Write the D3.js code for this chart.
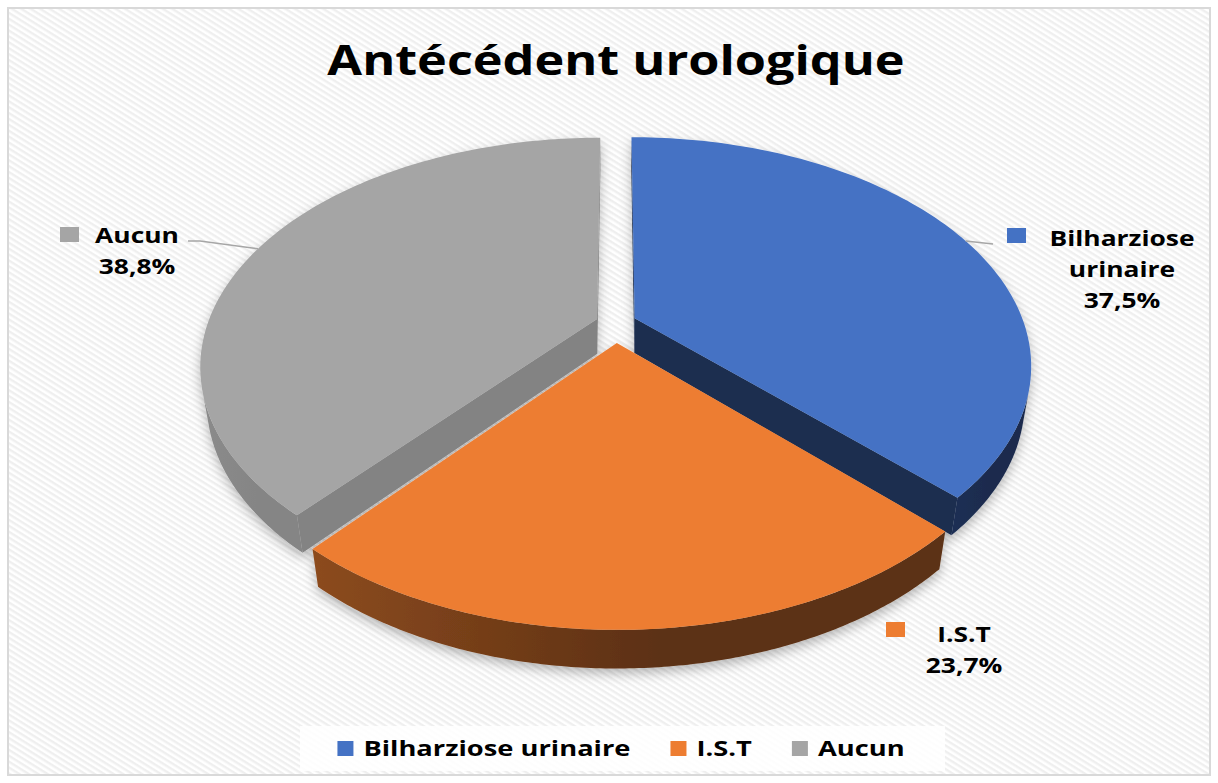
<!DOCTYPE html>
<html>
<head>
<meta charset="utf-8">
<script src="https://cdn.jsdelivr.net/npm/d3@7"></script>
<style>
  body { margin: 0; background: #fff; }
  text { font-family: "Open Sans", "DejaVu Sans", sans-serif; font-weight: 700; fill: #000; }
</style>
</head>
<body>
<svg id="chart"></svg>
<script>
// data
const categories = ["Bilharziose urinaire", "I.S.T", "Aucun"];
const values = [37.5, 23.7, 38.8];
const valueLabels = ["37,5%", "23,7%", "38,8%"];
const labelLines = [["Bilharziose", "urinaire"], ["I.S.T"], ["Aucun"]];

// styles
const topColors = ["#4472C4", "#ED7D31", "#A5A5A5"];
const wallLight = ["#1c2f54", "#8c4b1e", "#8b8b8b"];
const wallDark = ["#1a2b4d", "#5c3013", "#858585"];
const radialColors = ["#1b2d50", "#6a3817", "#838383"];

const W = 1218, H = 783;
const sx = 1.2; // horizontal stretch of the text

const svg = d3.select("#chart").attr("width", W).attr("height", H);
const defs = svg.append("defs");

const pat = defs.append("pattern")
  .attr("id", "stripes")
  .attr("width", 5).attr("height", 5)
  .attr("patternUnits", "userSpaceOnUse")
  .attr("patternTransform", "rotate(32)");
pat.append("rect").attr("width", 5).attr("height", 5).attr("fill", "#ffffff");
pat.append("rect").attr("width", 5).attr("height", 2.4).attr("fill", "#efefef");

const shadow = defs.append("filter").attr("id", "shadow")
  .attr("x", "-10%").attr("y", "-10%").attr("width", "120%").attr("height", "130%");
shadow.append("feDropShadow")
  .attr("dx", 0).attr("dy", 5).attr("stdDeviation", 6)
  .attr("flood-color", "#000").attr("flood-opacity", 0.28);

// background + frame
svg.append("rect").attr("x", 0).attr("y", 0).attr("width", W).attr("height", H).attr("fill", "#fff");
svg.append("rect")
  .attr("x", 8).attr("y", 8).attr("width", W - 16).attr("height", H - 16)
  .attr("fill", "url(#stripes)")
  .attr("stroke", "#d9d9d9").attr("stroke-width", 2);

// title
svg.append("text")
  .attr("transform", `translate(616,75) scale(${sx},1)`)
  .attr("text-anchor", "middle")
  .style("font-size", "42px")
  .text("Antécédent urologique");

// 3D projection of the pie (unit radius)
const k = 390, sA = 0.565, cA = Math.sqrt(1 - sA * sA), D = 4.06;
const cx = 616, cy = 325, depth = 0.11;
function proj(x, y, z) {
  const up = y * cA - z * sA, dist = z * cA + y * sA, s = D / (D - dist);
  return [cx + k * x * s, cy - k * up * s, dist];
}

const pie = d3.pie().sort(null).value(d => d).startAngle(0).endAngle(2 * Math.PI);
const arcs = pie(values);

function slicePoint(a, i, r, y) {
  const mid = (a.startAngle + a.endAngle) / 2;
  const ox = 0.052 * Math.sin(mid), oz = -0.08 * Math.cos(mid);
  return proj(ox + r * Math.sin(i), y, oz - r * Math.cos(i));
}

function area(pts) {
  let s = 0;
  for (let i = 0; i < pts.length; i++) {
    const p = pts[i], q = pts[(i + 1) % pts.length];
    s += p[0] * q[1] - q[0] * p[1];
  }
  return s / 2;
}

const line = d3.line();
const sides = [];
const tops = [];
arcs.forEach((a, si) => {
  const n = Math.max(8, Math.ceil((a.endAngle - a.startAngle) / 0.02));
  const angs = d3.range(n + 1).map(j => a.startAngle + (a.endAngle - a.startAngle) * j / n);
  const topPts = [slicePoint(a, 0, 0, 0)].concat(angs.map(t => slicePoint(a, t, 1, 0)));
  tops.push({ pts: topPts, color: topColors[si] });
  const sign = Math.sign(area(topPts));

  // outer wall: keep the segments that face the viewer, as one polygon
  const vis = [];
  for (let j = 0; j < n; j++) {
    const t1 = angs[j], t2 = angs[j + 1];
    const q = [slicePoint(a, t2, 1, 0), slicePoint(a, t1, 1, 0),
               slicePoint(a, t1, 1, -depth), slicePoint(a, t2, 1, -depth)];
    if (Math.sign(area(q)) === sign) vis.push(t1, t2);
  }
  if (vis.length) {
    const [lo, hi] = d3.extent(vis);
    const m = Math.max(4, Math.ceil((hi - lo) / 0.01));
    const ts = d3.range(m + 1).map(j => lo + (hi - lo) * j / m);
    const pts = ts.map(t => slicePoint(a, t, 1, 0))
      .concat(ts.slice().reverse().map(t => slicePoint(a, t, 1, -depth)));
    const [x0, x1] = d3.extent(pts, p => p[0]);
    const gid = "wall" + si;
    const g = defs.append("linearGradient").attr("id", gid)
      .attr("gradientUnits", "userSpaceOnUse")
      .attr("x1", x0).attr("x2", x1).attr("y1", 0).attr("y2", 0);
    g.append("stop").attr("offset", "0%").attr("stop-color", wallLight[si]);
    g.append("stop").attr("offset", "55%").attr("stop-color", wallDark[si]);
    g.append("stop").attr("offset", "100%").attr("stop-color", wallDark[si]);
    sides.push({ pts, color: `url(#${gid})`, z: d3.mean(pts, p => p[2]) });
  }
  // radial faces
  const e = a.endAngle, s0 = a.startAngle;
  [[slicePoint(a, e, 0, 0), slicePoint(a, e, 1, 0), slicePoint(a, e, 1, -depth), slicePoint(a, e, 0, -depth)],
   [slicePoint(a, s0, 1, 0), slicePoint(a, s0, 0, 0), slicePoint(a, s0, 0, -depth), slicePoint(a, s0, 1, -depth)]]
    .forEach(pts => {
      if (Math.sign(area(pts)) === sign)
        sides.push({ pts, color: radialColors[si], z: d3.mean(pts, p => p[2]) });
    });
});

sides.sort((a, b) => a.z - b.z);

const pieG = svg.append("g").attr("filter", "url(#shadow)");
pieG.selectAll("path.side")
  .data(sides)
  .join("path")
  .attr("class", "side")
  .attr("d", d => line(d.pts.map(p => [p[0], p[1]])) + "Z")
  .attr("fill", d => d.color);
pieG.selectAll("path.top")
  .data(tops)
  .join("path")
  .attr("class", "top")
  .attr("d", d => line(d.pts.map(p => [p[0], p[1]])) + "Z")
  .attr("fill", d => d.color);

// data labels
const labelPos = [[1122, 246], [964, 642], [137, 243]];
const markerPos = [[1007, 228], [886, 622], [60, 227]];
const leaderFrom = [[993, 244], null, [188, 241]];
const lineGap = 31;

arcs.forEach((a, i) => {
  if (leaderFrom[i]) {
    const mid = (a.startAngle + a.endAngle) / 2;
    const rim = slicePoint(a, mid, 1, 0);
    const pts = i === 2
      ? [leaderFrom[i], [leaderFrom[i][0] + 12, leaderFrom[i][1]], [rim[0], rim[1]]]
      : [leaderFrom[i], [rim[0], rim[1]]];
    svg.append("path").attr("d", line(pts)).attr("fill", "none")
      .attr("stroke", "#a6a6a6").attr("stroke-width", 1.3);
  }
  svg.append("rect")
    .attr("x", markerPos[i][0]).attr("y", markerPos[i][1])
    .attr("width", 19).attr("height", 15)
    .attr("fill", topColors[i]);
  const rows = labelLines[i].concat([valueLabels[i]]);
  rows.forEach((r, j) => {
    svg.append("text")
      .attr("transform", `translate(${labelPos[i][0]},${labelPos[i][1] + j * lineGap}) scale(${sx},1)`)
      .attr("text-anchor", "middle")
      .style("font-size", "22px")
      .text(r);
  });
});

// legend
const lsx = 1.3;
const legend = svg.append("g");
legend.append("rect")
  .attr("x", 300).attr("y", 726).attr("width", 645).attr("height", 45)
  .attr("fill", "#fff").attr("opacity", 0.85);
const items = legend.selectAll("g.item").data(categories).join("g").attr("class", "item");
items.append("rect").attr("y", -15).attr("width", 16).attr("height", 15).attr("fill", (d, i) => topColors[i]);
items.append("text")
  .attr("transform", `translate(26,0) scale(${lsx},1)`)
  .style("font-size", "21px")
  .text(d => d);
const widths = [];
items.each(function () {
  const t = d3.select(this).select("text").node();
  widths.push(26 + t.getComputedTextLength() * lsx);
});
const gap = 40;
const total = d3.sum(widths) + gap * (widths.length - 1);
const lx = 621 - total / 2;
items.attr("transform", (d, i) => {
  const x = lx + d3.sum(widths.slice(0, i)) + gap * i;
  return `translate(${x},756)`;
});
</script>
</body>
</html>
